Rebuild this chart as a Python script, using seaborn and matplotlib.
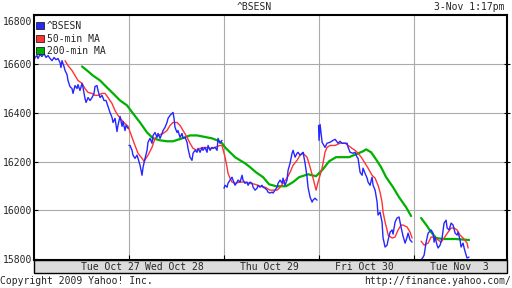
import matplotlib
matplotlib.use("Agg")
import matplotlib.pyplot as plt
import pandas as pd
import seaborn as sns
from matplotlib.patches import Rectangle, Patch
from matplotlib.transforms import ScaledTranslation

# ---------------- data (x = trading-session position in days, y = index level) -------------
bsesn_t_d1 = [0.005, 0.016, 0.037, 0.047, 0.068, 0.089, 0.111, 0.132, 0.153, 0.174, 0.195, 0.216, 0.237, 0.258,
              0.279, 0.289, 0.300, 0.321, 0.332, 0.353, 0.363, 0.384, 0.405, 0.416, 0.437, 0.458, 0.468, 0.489,
              0.511, 0.521, 0.542, 0.553, 0.574, 0.595, 0.616, 0.637, 0.647, 0.668, 0.679, 0.700, 0.721, 0.742,
              0.763, 0.784, 0.805, 0.826, 0.837, 0.858, 0.879, 0.889, 0.911, 0.932, 0.942, 0.963, 0.974, 0.995]
bsesn_v_d1 = [16613, 16626, 16634, 16622, 16638, 16630, 16642, 16626, 16634, 16622, 16613, 16626, 16617, 16622,
              16605, 16585, 16613, 16589, 16573, 16556, 16532, 16507, 16499, 16479, 16511, 16499, 16515, 16491,
              16520, 16503, 16458, 16442, 16462, 16450, 16462, 16479, 16507, 16511, 16491, 16462, 16471, 16450,
              16450, 16426, 16401, 16381, 16360, 16377, 16323, 16348, 16385, 16344, 16364, 16327, 16348, 16336]

bsesn_t_d2 = [1.005, 1.016, 1.037, 1.047, 1.068, 1.089, 1.100, 1.121, 1.132, 1.142, 1.153, 1.174, 1.195, 1.205,
              1.226, 1.247, 1.258, 1.279, 1.300, 1.311, 1.332, 1.353, 1.363, 1.384, 1.405, 1.416, 1.437, 1.458,
              1.468, 1.479, 1.489, 1.511, 1.521, 1.542, 1.563, 1.574, 1.595, 1.616, 1.626, 1.647, 1.668, 1.679,
              1.700, 1.721, 1.732, 1.753, 1.774, 1.784, 1.805, 1.826, 1.837, 1.858, 1.879, 1.889, 1.911, 1.932,
              1.942, 1.963, 1.984]
bsesn_v_d2 = [16266, 16266, 16246, 16226, 16213, 16226, 16213, 16185, 16164, 16144, 16177, 16213, 16246, 16279,
              16295, 16275, 16307, 16319, 16299, 16315, 16295, 16315, 16327, 16340, 16360, 16377, 16389, 16397,
              16401, 16377, 16340, 16319, 16327, 16299, 16315, 16295, 16299, 16279, 16254, 16218, 16205, 16234,
              16246, 16238, 16254, 16238, 16258, 16246, 16258, 16238, 16266, 16246, 16258, 16254, 16258, 16246,
              16295, 16275, 16287]

bsesn_t_d3 = [2.005, 2.016, 2.037, 2.047, 2.068, 2.089, 2.100, 2.121, 2.142, 2.153, 2.174, 2.195, 2.205, 2.226,
              2.247, 2.258, 2.279, 2.300, 2.311, 2.332, 2.353, 2.363, 2.384, 2.405, 2.416, 2.437, 2.458, 2.468,
              2.489, 2.511, 2.521, 2.542, 2.563, 2.574, 2.595, 2.616, 2.626, 2.647, 2.668, 2.679, 2.700, 2.721,
              2.732, 2.753, 2.774, 2.784, 2.805, 2.826, 2.837, 2.858, 2.879, 2.889, 2.911, 2.932, 2.942, 2.963,
              2.984]
bsesn_v_d3 = [16091, 16103, 16095, 16111, 16124, 16136, 16124, 16103, 16116, 16124, 16116, 16144, 16124, 16111,
              16116, 16103, 16116, 16111, 16095, 16083, 16091, 16103, 16095, 16103, 16095, 16091, 16083, 16075,
              16071, 16075, 16071, 16083, 16095, 16111, 16124, 16111, 16132, 16103, 16124, 16164, 16193, 16234,
              16246, 16218, 16234, 16238, 16226, 16234, 16238, 16193, 16136, 16095, 16054, 16034, 16042, 16050,
              16042]

bsesn_t_d4 = [3.000, 3.005, 3.016, 3.037, 3.068, 3.089, 3.121, 3.153, 3.174, 3.205, 3.226, 3.247, 3.279, 3.300,
              3.311, 3.332, 3.363, 3.384, 3.405, 3.416, 3.437, 3.458, 3.468, 3.489, 3.511, 3.521, 3.542, 3.563,
              3.574, 3.595, 3.616, 3.626, 3.647, 3.668, 3.679, 3.700, 3.721, 3.732, 3.753, 3.774, 3.784, 3.805,
              3.826, 3.847, 3.868, 3.889, 3.911, 3.932, 3.942, 3.963, 3.984]
bsesn_v_d4 = [16348, 16287, 16352, 16279, 16258, 16275, 16279, 16287, 16291, 16275, 16283, 16275, 16275, 16275,
              16258, 16238, 16234, 16238, 16218, 16213, 16156, 16144, 16173, 16152, 16132, 16116, 16103, 16136,
              16103, 16083, 16034, 15981, 15993, 15952, 15887, 15850, 15858, 15879, 15911, 15920, 15903, 15952,
              15969, 15973, 15932, 15895, 15866, 15891, 15907, 15879, 15870]

bsesn_t_d5 = [4.079, 4.100, 4.111, 4.132, 4.153, 4.163, 4.184, 4.205, 4.216, 4.226, 4.247, 4.258, 4.279, 4.300,
              4.311, 4.321, 4.342, 4.353, 4.374, 4.395, 4.416, 4.437, 4.458, 4.468, 4.489, 4.500, 4.521, 4.532,
              4.553, 4.563, 4.584]
bsesn_v_d5 = [15797, 15809, 15817, 15870, 15907, 15911, 15920, 15907, 15870, 15891, 15858, 15846, 15858, 15887,
              15920, 15948, 15960, 15928, 15920, 15948, 15940, 15907, 15899, 15911, 15879, 15850, 15866, 15846,
              15817, 15805, 15809]

ma50_t_a = [0.332, 0.363, 0.405, 0.437, 0.468, 0.511, 0.542, 0.574, 0.616, 0.647, 0.679, 0.721, 0.753, 0.784,
            0.826, 0.858, 0.889, 0.932, 0.963, 0.995, 1.037, 1.068, 1.100, 1.142, 1.163, 1.205, 1.247, 1.279,
            1.311, 1.363, 1.405, 1.437, 1.468, 1.511, 1.542, 1.574, 1.616, 1.647, 1.679, 1.721, 1.753, 1.805,
            1.858, 1.911, 1.963, 1.984, 2.016, 2.037, 2.047, 2.068, 2.089, 2.121, 2.174, 2.226, 2.279, 2.332,
            2.384, 2.437, 2.489, 2.563, 2.595, 2.626, 2.668, 2.700, 2.732, 2.774, 2.805, 2.837, 2.879, 2.911,
            2.942, 2.974, 2.995, 3.037, 3.068, 3.089, 3.121, 3.174, 3.226, 3.279, 3.311, 3.353, 3.384, 3.416,
            3.458, 3.489, 3.521, 3.563, 3.595, 3.626, 3.647, 3.668, 3.679, 3.700, 3.721, 3.732, 3.774, 3.805,
            3.837, 3.868, 3.889, 3.932, 3.963, 3.984]
ma50_v_a = [16613, 16593, 16573, 16552, 16532, 16520, 16499, 16483, 16479, 16471, 16471, 16479, 16479, 16462,
            16438, 16409, 16389, 16368, 16356, 16344, 16299, 16266, 16234, 16213, 16201, 16226, 16258, 16295,
            16307, 16315, 16327, 16348, 16360, 16360, 16348, 16327, 16299, 16275, 16254, 16246, 16254, 16258,
            16254, 16258, 16266, 16266, 16218, 16177, 16152, 16132, 16116, 16111, 16116, 16116, 16111, 16107,
            16099, 16095, 16083, 16083, 16095, 16111, 16132, 16156, 16185, 16205, 16226, 16234, 16218, 16177,
            16132, 16083, 16116, 16173, 16238, 16258, 16266, 16266, 16275, 16275, 16266, 16254, 16246, 16234,
            16213, 16193, 16173, 16144, 16132, 16103, 16075, 16034, 15993, 15952, 15920, 15899, 15887, 15891,
            15920, 15940, 15940, 15932, 15911, 15887]
ma50_t_b = [4.079, 4.111, 4.153, 4.184, 4.216, 4.258, 4.289, 4.321, 4.363, 4.395, 4.426, 4.458, 4.489, 4.521,
            4.563, 4.574]
ma50_v_b = [15874, 15858, 15866, 15891, 15891, 15879, 15870, 15887, 15911, 15928, 15928, 15920, 15899, 15887,
            15866, 15846]

ma200_t_a = [0.511, 0.563, 0.626, 0.700, 0.774, 0.837, 0.911, 0.984, 1.047, 1.121, 1.195, 1.258, 1.332, 1.405,
             1.468, 1.563, 1.647, 1.721, 1.774, 1.826, 1.879, 1.932, 1.984, 2.016, 2.068, 2.121, 2.174, 2.226,
             2.279, 2.342, 2.416, 2.479, 2.553, 2.658, 2.732, 2.795, 2.889, 2.974, 3.047, 3.111, 3.184, 3.321,
             3.395, 3.468, 3.500, 3.553, 3.605, 3.658, 3.711, 3.784, 3.847, 3.921, 3.974]
ma200_v_a = [16589, 16573, 16552, 16532, 16503, 16479, 16450, 16430, 16397, 16360, 16319, 16295, 16287, 16283,
             16283, 16295, 16307, 16307, 16303, 16299, 16295, 16287, 16275, 16258, 16238, 16218, 16205, 16193,
             16177, 16156, 16136, 16107, 16099, 16099, 16116, 16136, 16148, 16140, 16169, 16201, 16218, 16218,
             16230, 16242, 16250, 16238, 16209, 16177, 16136, 16095, 16054, 16013, 15977]
ma200_t_b = [4.079, 4.142, 4.184, 4.237, 4.311, 4.437, 4.584]
ma200_v_b = [15969, 15936, 15911, 15887, 15883, 15883, 15879]

series_names = ["^BSESN", "50-min MA", "200-min MA"]
day_labels = ["Tue Oct 27", "Wed Oct 28", "Thu Oct 29", "Fri Oct 30", "Tue Nov  3"]
day_label_pos = [0.807, 1.48, 2.486, 3.479, 4.482]
day_bounds = [1, 2, 3, 4]
y_ticks = [15800, 16000, 16200, 16400, 16600, 16800]


def frame(segments):
    rows = []
    for k, (ts, vs) in enumerate(segments):
        for t, v in zip(ts, vs):
            rows.append({"t": t, "v": v, "seg": k})
    return pd.DataFrame(rows)


df_b = frame([(bsesn_t_d1, bsesn_v_d1), (bsesn_t_d2, bsesn_v_d2), (bsesn_t_d3, bsesn_v_d3),
              (bsesn_t_d4, bsesn_v_d4), (bsesn_t_d5, bsesn_v_d5)])
df_r = frame([(ma50_t_a, ma50_v_a), (ma50_t_b, ma50_v_b)])
df_g = frame([(ma200_t_a, ma200_v_a), (ma200_t_b, ma200_v_b)])

BLUE = "#2626ff"
RED = "#ff3333"
GREEN = "#00b000"

sns.set_style("white")
plt.rcParams["font.family"] = ["DejaVu Sans Mono"]
plt.rcParams["font.size"] = 7

fig = plt.figure(figsize=(5.12, 2.88), dpi=100)
L, R, T, B = 33.5, 506.7, 15.0, 260.0
W, H = 512.0, 288.0
ax = fig.add_axes([L / W, 1 - B / H, (R - L) / W, (B - T) / H])

# label band below the plot
band = Rectangle((L / W, 1 - 273 / H), (R - L) / W, 13 / H, transform=fig.transFigure,
                 facecolor="#dcdcdc", edgecolor="black", lw=1.0, zorder=-1)
fig.add_artist(band)

for y in y_ticks[1:-1]:
    ax.axhline(y, color="#aaaaaa", lw=0.8, zorder=0)
for x in day_bounds:
    ax.axvline(x, color="#aaaaaa", lw=0.8, zorder=0)

sns.lineplot(data=df_g, x="t", y="v", units="seg", estimator=None, sort=False,
             color=GREEN, lw=1.6, ax=ax)
sns.lineplot(data=df_r, x="t", y="v", units="seg", estimator=None, sort=False,
             color=RED, lw=1.0, ax=ax)
sns.lineplot(data=df_b, x="t", y="v", units="seg", estimator=None, sort=False,
             color=BLUE, lw=1.0, ax=ax)

ax.set_xlim(0, 4.98)
ax.set_ylim(15797, 16797)
ax.set_xlabel("")
ax.set_ylabel("")

ax.set_xticks(day_bounds)
ax.set_xticklabels([])
ax.set_xticks(day_label_pos, minor=True)
ax.set_xticklabels(day_labels, minor=True)
ax.tick_params(axis="x", which="major", direction="in", length=3.5, width=0.8, color="black", bottom=True)
ax.tick_params(axis="x", which="minor", length=0, pad=1.6, labelsize=7)

ax.set_yticks(y_ticks)
ax.set_yticklabels([str(v) for v in y_ticks])
ax.tick_params(axis="y", which="major", direction="in", length=3, width=0.8, color="black",
               left=True, pad=1.2, labelsize=7)
lab = ax.get_yticklabels()[-1]
lab.set_transform(lab.get_transform() + ScaledTranslation(0, -4 / 72, fig.dpi_scale_trans))

sec = ax.secondary_yaxis("right")
sec.set_yticks(y_ticks[1:-1])
sec.set_yticklabels([])
sec.tick_params(direction="inout", length=4, width=0.8, color="black")
sec.spines["right"].set_visible(False)

for s in ax.spines.values():
    s.set_visible(True)
    s.set_color("black")
    s.set_linewidth(1.5)

handles = [Patch(facecolor=c, edgecolor="#222222", lw=0.6) for c in (BLUE, RED, GREEN)]
ax.legend(handles, series_names, loc="upper left", bbox_to_anchor=(0.006, 0.975), frameon=False,
          fontsize=7, handlelength=0.75, handleheight=0.75, handletextpad=0.35, labelspacing=0.25,
          borderpad=0, borderaxespad=0)

fig.text(254 / W, 1 - 10.5 / H, "^BSESN", ha="center", va="baseline", fontsize=7)
fig.text(505 / W, 1 - 10.5 / H, "3-Nov 1:17pm", ha="right", va="baseline", fontsize=7)
fig.text(0.5 / W, 1 - 284 / H, "Copyright 2009 Yahoo! Inc.", ha="left", va="baseline", fontsize=7)
fig.text(511 / W, 1 - 284 / H, "http://finance.yahoo.com/", ha="right", va="baseline", fontsize=7)

fig.savefig("out.png", dpi=100, facecolor="white")
